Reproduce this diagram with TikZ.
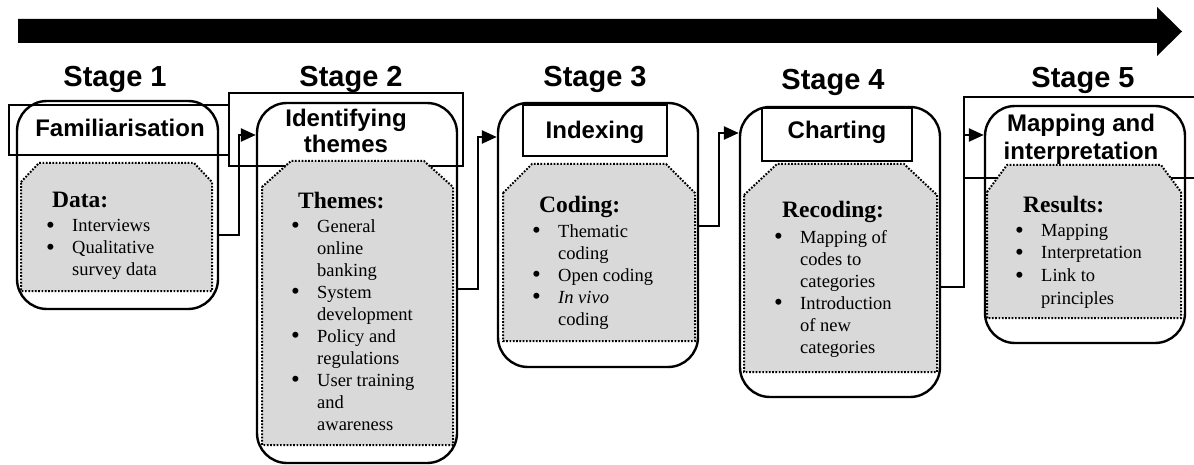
\documentclass[tikz,border=0pt]{standalone}
\usepackage{fontspec}
\setmainfont{Liberation Serif}
\newfontfamily\headfont{Liberation Sans}
\usetikzlibrary{arrows.meta}
\definecolor{boxgray}{RGB}{217,217,217}

% bullet marker and continuation indent for the list items
\newcommand\stbul{\makebox[26pt][l]{\raisebox{-1.8pt}{\fontsize{25}{22}\selectfont\textbullet}}}
\newcommand\stind{\makebox[26pt][l]{}}

% grey content panel with chamfered top corners: x1,y1,x2,y2,chamfer-x,chamfer-y
\newcommand\octbox[6]{%
  \path[fill=boxgray] ({#1},{#2+#6}) -- ({#1+#5},#2) -- ({#3-#5},#2) -- ({#3},{#2+#6})
    -- (#3,#4) -- (#1,#4) -- cycle;
  \draw[panelline] ({#1},{#2+#6}) -- ({#1+#5},#2) -- ({#3-#5},#2) -- ({#3},{#2+#6})
    -- (#3,#4) -- (#1,#4) -- cycle;}

% multi-line nodes are anchored at the baseline of their last line
\tikzset{
  stagelbl/.style={font=\headfont\bfseries\fontsize{29}{33}\selectfont, anchor=base, inner sep=0pt},
  titletxt/.style={font=\headfont\bfseries\fontsize{24}{26}\selectfont, anchor=base, inner sep=0pt, align=center},
  outerbox/.style={draw, line width=2.4pt, rounded corners=30pt, inner sep=0pt},
  titlebox/.style={draw, line width=2pt, inner sep=0pt},
  panelline/.style={line width=2pt, dash pattern=on 1.7pt off 1.6pt},
  listhead/.style={font=\bfseries\fontsize{23.5}{26}\selectfont, anchor=base west, inner sep=0pt},
  listtxt/.style={font=\fontsize{18.5}{22}\selectfont, anchor=base west, inner sep=0pt, align=left},
  conn/.style={line width=2.4pt, -{Triangle[length=15pt,width=13pt]}},
}

\begin{document}
\begin{tikzpicture}[x=1pt,y=-1pt]
\useasboundingbox[fill=white] (0,0) rectangle (1194,465);
\clip (0,0) rectangle (1194,465);

% process arrow along the top
\fill (18,19) -- (1157,19) -- (1157,7) -- (1182,31.5) -- (1157,56) -- (1157,43) -- (18,43) -- cycle;

% stage labels
\node[stagelbl] (l1) at (115,87) {Stage 1};
\node[stagelbl] (l2) at (351,87) {Stage 2};
\node[stagelbl] (l3) at (595,87) {Stage 3};
\node[stagelbl] (l4) at (833,90) {Stage 4};
\node[stagelbl] (l5) at (1083,88) {Stage 5};

% title frames
\node[titlebox, minimum width=220pt, minimum height=50pt] (t1) at (119,130) {};
\node[titlebox, minimum width=234pt, minimum height=73pt] (t2) at (346,129.5) {};
\node[titlebox, minimum width=144pt, minimum height=51pt] (t3) at (595,130.5) {};
\node[titlebox, minimum width=150pt, minimum height=53pt] (t4) at (837,134.5) {};
\node[titlebox, minimum width=250pt, minimum height=81pt] (t5) at (1089,137.5) {};

% stage boxes
\node[outerbox, minimum width=201pt, minimum height=208pt] (s1) at (117.5,205) {};
\node[outerbox, minimum width=200pt, minimum height=360pt] (s2) at (357,283) {};
\node[outerbox, minimum width=200pt, minimum height=264pt] (s3) at (598,235) {};
\node[outerbox, minimum width=200pt, minimum height=290pt] (s4) at (840,252) {};
\node[outerbox, minimum width=200pt, minimum height=237pt] (s5) at (1085,224.5) {};

% content panels
\octbox{21}{163}{212}{291}{18}{19}
\octbox{262}{161}{453}{445}{29}{26}
\octbox{503}{164}{695}{341}{29}{29}
\octbox{744}{164}{937}{372}{33}{31}
\octbox{987}{165}{1181}{318}{20}{27}

% stage titles
\node[titletxt] (n1) at (120,137) {Familiarisation};
\node[titletxt] (n2) at (346,153) {Identifying\\themes};
\node[titletxt] (n3) at (595,139) {Indexing};
\node[titletxt] (n4) at (837,139) {Charting};
\node[titletxt, font=\headfont\bfseries\fontsize{24}{28}\selectfont] (n5) at (1081,160) {Mapping and\\interpretation};

% panel contents
\node[listhead] (h1) at (52,208) {Data:};
\node[listtxt] (b1) at (46,276) {\stbul Interviews\\\stbul Qualitative\\\stind survey data};

\node[listhead] (h2) at (298,209) {Themes:};
\node[listtxt] (b2) at (291,430) {\stbul General\\\stind online\\\stind banking\\\stbul System\\\stind development\\\stbul Policy and\\\stind regulations\\\stbul User training\\\stind and\\\stind awareness};

\node[listhead] (h3) at (539,213) {Coding:};
\node[listtxt] (b3) at (532,325) {\stbul Thematic\\\stind coding\\\stbul Open coding\\\stbul \textit{In vivo}\\\stind coding};

\node[listhead] (h4) at (782,218) {Recoding:};
\node[listtxt] (b4) at (774,353) {\stbul Mapping of\\\stind codes to\\\stind categories\\\stbul Introduction\\\stind of new\\\stind categories};

\node[listhead] (h5) at (1023,213) {Results:};
\node[listtxt, font=\fontsize{18.5}{22.6}\selectfont] (b5) at (1015,304) {\stbul Mapping\\\stbul Interpretation\\\stbul Link to\\\stind principles};

% connectors between stages
\draw[conn] (s1.east |- 0,235) -- ++(20,0) |- (s2.west |- 0,135);
\draw[conn] (s2.east |- 0,289) -- ++(20,0) |- (s3.west |- 0,137);
\draw[conn] (s3.east |- 0,226) -- ++(20,0) |- (s4.west |- 0,133);
\draw[conn] (s4.east |- 0,287) -- ++(23,0) |- (s5.west |- 0,135);
\end{tikzpicture}
\end{document}
